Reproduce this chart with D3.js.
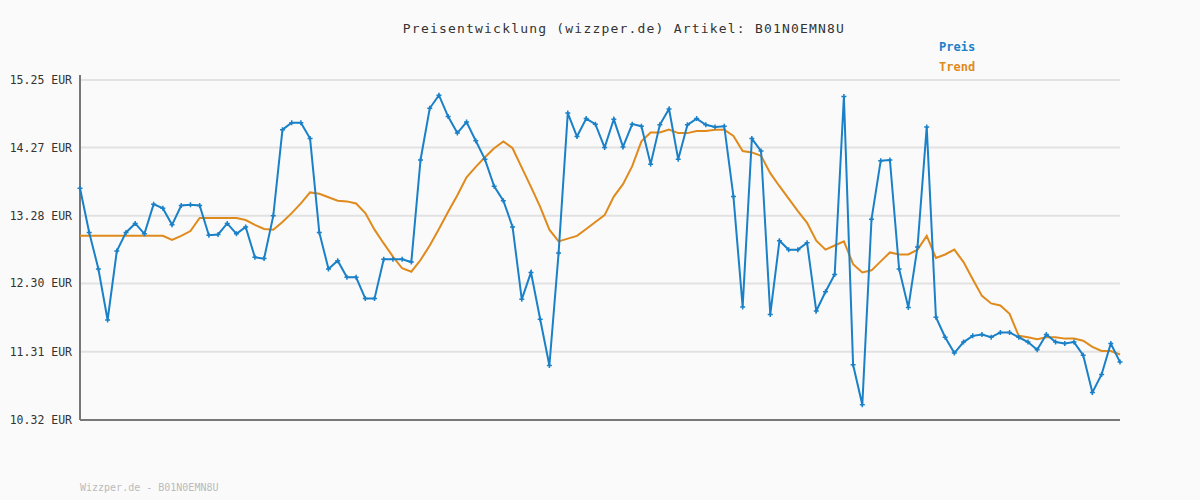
<!DOCTYPE html>
<html><head><meta charset="utf-8">
<script src="https://cdn.jsdelivr.net/npm/d3@7"></script>
<style>body{margin:0;background:#fafafa}text{font-family:"DejaVu Sans Mono",monospace}</style>
</head><body><svg id="c" width="1200" height="500"></svg>
<script>
const title = "Preisentwicklung (wizzper.de) Artikel: B01N0EMN8U";
const footer = "Wizzper.de - B01N0EMN8U";
const yTicks = [10.32, 11.31, 12.30, 13.28, 14.27, 15.25];
const preis = [13.68,13.04,12.51,11.77,12.77,13.04,13.17,13.02,13.45,13.39,13.15,13.43,13.44,13.43,13.00,13.01,13.17,13.02,13.12,12.68,12.66,13.28,14.53,14.63,14.63,14.40,13.04,12.51,12.63,12.39,12.39,12.08,12.08,12.65,12.65,12.65,12.61,14.09,14.84,15.03,14.72,14.48,14.64,14.37,14.10,13.71,13.50,13.12,12.07,12.46,11.78,11.11,12.74,14.77,14.43,14.69,14.61,14.27,14.68,14.28,14.61,14.58,14.03,14.60,14.83,14.10,14.60,14.69,14.60,14.57,14.58,13.56,11.96,14.40,14.22,11.85,12.92,12.79,12.79,12.89,11.90,12.18,12.43,15.01,11.12,10.54,13.23,14.08,14.09,12.51,11.95,12.83,14.57,11.81,11.52,11.29,11.45,11.54,11.56,11.52,11.59,11.59,11.52,11.45,11.34,11.56,11.45,11.43,11.45,11.26,10.72,10.98,11.43,11.16];
const trend = [12.99,12.99,12.99,12.99,12.99,12.99,12.99,12.99,12.99,12.99,12.93,12.99,13.06,13.25,13.25,13.25,13.25,13.25,13.22,13.15,13.09,13.08,13.19,13.32,13.46,13.62,13.60,13.55,13.50,13.49,13.46,13.32,13.08,12.88,12.69,12.52,12.47,12.64,12.85,13.09,13.34,13.58,13.84,13.99,14.13,14.26,14.36,14.26,13.98,13.70,13.41,13.08,12.91,12.95,12.99,13.09,13.19,13.29,13.56,13.74,14.00,14.36,14.49,14.49,14.53,14.48,14.48,14.51,14.51,14.53,14.53,14.44,14.22,14.20,14.15,13.90,13.71,13.53,13.35,13.18,12.92,12.79,12.85,12.91,12.58,12.46,12.49,12.62,12.75,12.72,12.72,12.79,12.99,12.67,12.72,12.79,12.61,12.36,12.12,12.01,11.98,11.86,11.54,11.52,11.49,11.52,11.52,11.50,11.50,11.47,11.38,11.32,11.32,11.27];
const blue="#1a80c8", orange="#e08a1c";
const svg=d3.select("#c");
const x=d3.scaleLinear().domain([0,preis.length-1]).range([80,1120]);
const y=d3.scaleLinear().domain([10.32,15.25]).range([420,80]);
svg.append("rect").attr("width",1200).attr("height",500).attr("fill","#fafafa");
svg.append("g").selectAll("line").data(yTicks.slice(1)).join("line")
 .attr("x1",80).attr("x2",1120).attr("y1",d=>y(d)).attr("y2",d=>y(d)).attr("stroke","#e2e2e2").attr("stroke-width",2);
svg.append("line").attr("x1",80).attr("x2",80).attr("y1",y(15.25)-5).attr("y2",420).attr("stroke","#777").attr("stroke-width",2);
svg.append("line").attr("x1",80).attr("x2",1120).attr("y1",420).attr("y2",420).attr("stroke","#777").attr("stroke-width",2);
svg.append("g").selectAll("text").data(yTicks).join("text")
 .attr("x",72).attr("y",d=>y(d)+4).attr("text-anchor","end").attr("font-size",11.5).attr("fill","#333").text(d=>d.toFixed(2)+" EUR");
const line=d3.line().x((d,i)=>x(i)).y(d=>y(d));
svg.append("path").datum(trend).attr("d",line).attr("fill","none").attr("stroke",orange).attr("stroke-width",2);
svg.append("path").datum(preis).attr("d",line).attr("fill","none").attr("stroke",blue).attr("stroke-width",2);
svg.append("g").selectAll("path").data(preis).join("path")
 .attr("d",(d,i)=>`M${x(i)-2.5},${y(d)}h5M${x(i)},${y(d)-2.5}v5`).attr("stroke",blue).attr("stroke-width",1.5);
svg.append("text").attr("x",624).attr("y",33).attr("text-anchor","middle").attr("font-size",13).attr("letter-spacing",1.2).attr("fill","#333").text(title);
svg.append("text").attr("x",939).attr("y",51).attr("font-size",12).attr("font-weight","bold").attr("fill",blue).text("Preis");
svg.append("text").attr("x",939).attr("y",71).attr("font-size",12).attr("font-weight","bold").attr("fill",orange).text("Trend");
svg.append("text").attr("x",80).attr("y",491).attr("font-size",10).attr("fill","#bbb").text(footer);
</script></body></html>
